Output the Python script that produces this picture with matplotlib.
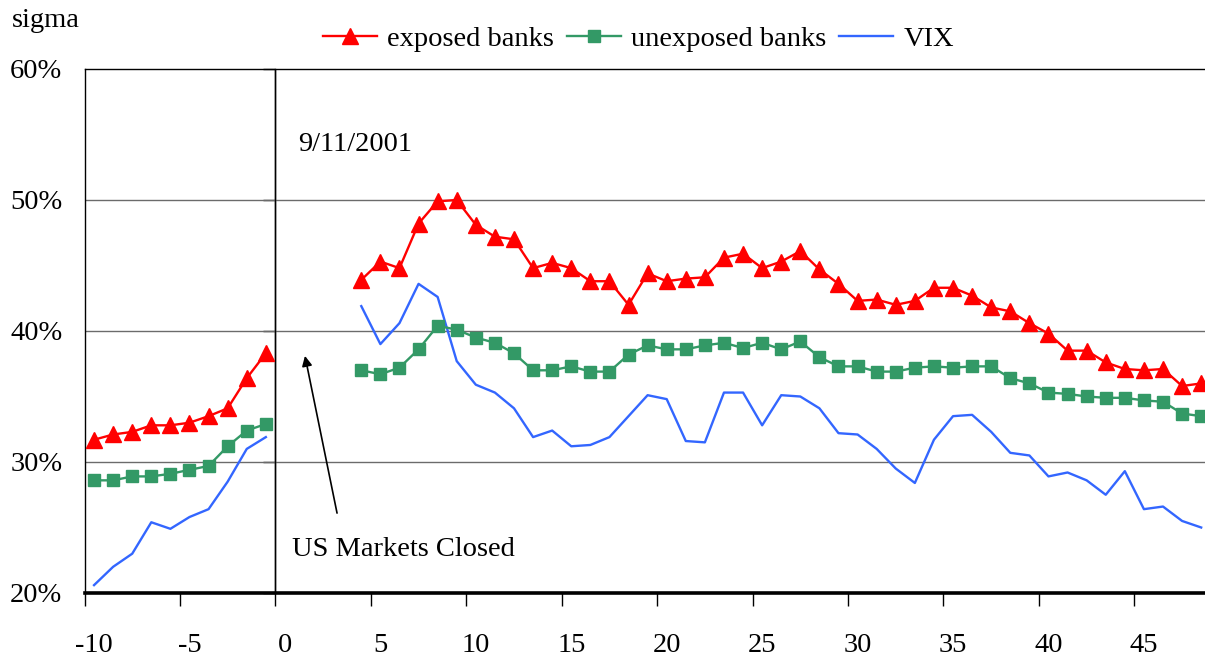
import matplotlib
matplotlib.use("Agg")
import matplotlib.pyplot as plt
from matplotlib.ticker import FixedLocator, FuncFormatter

# ---- data (volatility, %) ----
days_pre = list(range(-10, 0))
days_post = list(range(4, 49))

exposed_pre = [31.7, 32.1, 32.3, 32.8, 32.8, 33.0, 33.5, 34.1, 36.4, 38.3]
exposed_post = [43.9, 45.3, 44.8, 48.2, 49.9, 50.0, 48.1, 47.2, 47.0, 44.8,
                45.2, 44.8, 43.8, 43.8, 42.0, 44.4, 43.8, 44.0, 44.1, 45.6,
                45.9, 44.8, 45.3, 46.1, 44.7, 43.6, 42.3, 42.4, 42.0, 42.3,
                43.3, 43.3, 42.7, 41.8, 41.5, 40.6, 39.8, 38.5, 38.5, 37.6,
                37.1, 37.0, 37.1, 35.8, 36.0]

unexposed_pre = [28.6, 28.6, 28.9, 28.9, 29.1, 29.4, 29.7, 31.2, 32.4, 32.9]
unexposed_post = [37.0, 36.7, 37.2, 38.6, 40.4, 40.1, 39.5, 39.1, 38.3, 37.0,
                  37.0, 37.3, 36.9, 36.9, 38.2, 38.9, 38.6, 38.6, 38.9, 39.1,
                  38.7, 39.1, 38.6, 39.2, 38.0, 37.3, 37.3, 36.9, 36.9, 37.2,
                  37.3, 37.2, 37.3, 37.3, 36.4, 36.0, 35.3, 35.2, 35.0, 34.9,
                  34.9, 34.7, 34.6, 33.7, 33.5]

vix_pre = [20.6, 22.0, 23.0, 25.4, 24.9, 25.8, 26.4, 28.5, 31.0, 31.9]
vix_post = [41.9, 39.0, 40.6, 43.6, 42.6, 37.7, 35.9, 35.3, 34.1, 31.9,
            32.4, 31.2, 31.3, 31.9, 33.5, 35.1, 34.8, 31.6, 31.5, 35.3,
            35.3, 32.8, 35.1, 35.0, 34.1, 32.2, 32.1, 31.0, 29.5, 28.4,
            31.7, 33.5, 33.6, 32.3, 30.7, 30.5, 28.9, 29.2, 28.6, 27.5,
            29.3, 26.4, 26.6, 25.5, 25.0]

x_labels = list(range(-10, 50, 5))
y_ticks = [20, 30, 40, 50, 60]

# ---- style ----
plt.rcParams['font.family'] = ['Liberation Serif', 'DejaVu Serif']
plt.rcParams['axes.unicode_minus'] = False
FS = 20.5
RED = '#FF0000'
GREEN = '#339966'
BLUE = '#3366FF'

fig = plt.figure(figsize=(12.05, 6.58), dpi=100)
ax = fig.add_axes([84.5 / 1205, 65 / 658, 1120.5 / 1205, 524 / 658])

xmin, xmax = -10.5, 48.2
ax.set_xlim(xmin, xmax)
ax.set_ylim(20, 60)

for xs, ys in [(days_pre, exposed_pre), (days_post, exposed_post)]:
    ax.plot(xs, ys, color=RED, lw=1.7, marker='^', ms=11, mec=RED, mfc=RED,
            zorder=5, label='exposed banks' if xs is days_pre else None)
for xs, ys in [(days_pre, unexposed_pre), (days_post, unexposed_post)]:
    ax.plot(xs, ys, color=GREEN, lw=1.7, marker='s', ms=9, mec=GREEN, mfc=GREEN,
            zorder=4, label='unexposed banks' if xs is days_pre else None)
for xs, ys in [(days_pre, vix_pre), (days_post, vix_post)]:
    ax.plot(xs, ys, color=BLUE, lw=1.7, zorder=3,
            label='VIX' if xs is days_pre else None)

# grid
for g in y_ticks[1:-1]:
    ax.axhline(g, color='#6b6b6b', lw=1.0, zorder=1)

# spines
ax.spines['right'].set_visible(False)
ax.spines['top'].set_color('black')
ax.spines['top'].set_linewidth(1.0)
ax.spines['left'].set_linewidth(1.0)
ax.spines['bottom'].set_linewidth(2.6)

# y axis
ax.set_yticks(y_ticks)
ax.yaxis.set_major_formatter(FuncFormatter(lambda v, p: f"{v:.0f}%"))
ax.tick_params(axis='y', length=0, pad=16, labelsize=FS)

# x axis: labels at category centres, tick marks at boundaries
ax.xaxis.set_major_locator(FixedLocator(x_labels))
ax.xaxis.set_minor_locator(FixedLocator([v - 0.5 for v in x_labels]))
ax.tick_params(axis='x', which='major', length=0, pad=29, labelsize=FS)
ax.tick_params(axis='x', which='minor', length=9, width=1, direction='out')

# vertical axis line at day 0 with tick marks
ax.axvline(-0.5, color='black', lw=1.0, zorder=2)
sec = ax.secondary_yaxis((-0.5 - xmin) / (xmax - xmin))
sec.set_alignment('left')
sec.set_yticks(y_ticks)
sec.set_yticklabels([])
sec.tick_params(length=9, width=1, direction='out')
sec.spines['left'].set_linewidth(1.0)

# annotations
ax.text(0.68, 54.2, '9/11/2001', fontsize=FS, va='center', ha='left')
ax.text(0.37, 23.3, 'US Markets Closed', fontsize=FS, va='center', ha='left')
ax.annotate('', xy=(1.05, 38.1), xytext=(2.73, 26.1),
            arrowprops=dict(arrowstyle='-|>', color='black', lw=1.2,
                            mutation_scale=15, shrinkA=0, shrinkB=0))

fig.text(12 / 1205, 1 - 27 / 658, 'sigma', fontsize=FS, va='baseline', ha='left')

leg = fig.legend(loc='center', bbox_to_anchor=(0.530, 1 - 39 / 658), ncol=3,
                 frameon=False, fontsize=FS, handlelength=1.9,
                 handletextpad=0.35, columnspacing=0.45, borderaxespad=0)

fig.savefig('out.png', dpi=100)
